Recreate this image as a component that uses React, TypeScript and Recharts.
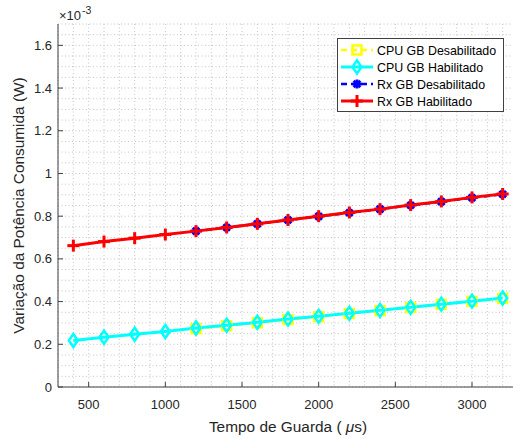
import React from 'react';
import { LineChart, Line, XAxis, YAxis, CartesianGrid, Legend, Label } from 'recharts';

// guard time (µs) and consumed-power variation (×10^-3 W)
const GUARD_US = [400, 600, 800, 1000, 1200, 1400, 1600, 1800, 2000, 2200, 2400, 2600, 2800, 3000, 3200];
const CPU_GB_OFF = [null, null, null, null, 0.273, 0.287, 0.301, 0.316, 0.330, 0.344, 0.358, 0.372, 0.387, 0.401, 0.415];
const CPU_GB_ON = [0.218, 0.233, 0.247, 0.260, 0.276, 0.289, 0.303, 0.318, 0.331, 0.345, 0.359, 0.373, 0.388, 0.402, 0.417];
const RX_GB_OFF = [null, null, null, null, 0.730, 0.747, 0.764, 0.782, 0.799, 0.816, 0.833, 0.851, 0.868, 0.886, 0.903];
const RX_GB_ON = [0.662, 0.681, 0.697, 0.714, 0.730, 0.747, 0.764, 0.782, 0.800, 0.817, 0.833, 0.852, 0.869, 0.888, 0.904];

const X_TICKS = [500, 1000, 1500, 2000, 2500, 3000];
const Y_TICKS = [0, 0.2, 0.4, 0.6, 0.8, 1, 1.2, 1.4, 1.6];
const X_DOMAIN = [300, 3300];
const Y_DOMAIN = [0, 1.7];
// minor grid: every 100 µs and every 0.05
const X_GRID = Array.from({ length: 31 }, (_, i) => 300 + i * 100);
const Y_GRID = Array.from({ length: 35 }, (_, i) => +(i * 0.05).toFixed(2));

const SERIES = [
  { key: 'cpuOff', name: 'CPU GB Desabilitado', color: '#FFFF00', dash: '6 4', marker: 'square', width: 2.5 },
  { key: 'cpuOn', name: 'CPU GB Habilitado', color: '#00FFFF', dash: undefined, marker: 'diamond', width: 3 },
  { key: 'rxOff', name: 'Rx GB Desabilitado', color: '#0000FF', dash: '6 4', marker: 'star', width: 2.5 },
  { key: 'rxOn', name: 'Rx GB Habilitado', color: '#FF0000', dash: undefined, marker: 'plus', width: 3 },
];

const data = GUARD_US.map((x, i) => ({
  x,
  cpuOff: CPU_GB_OFF[i],
  cpuOn: CPU_GB_ON[i],
  rxOff: RX_GB_OFF[i],
  rxOn: RX_GB_ON[i],
}));

const T = {
  ink: '#262626',
  axis: '#404040',
  grid: '#c4c4c4',
  sans: "'Liberation Sans', Arial, Helvetica, sans-serif",
};

const isMajor = (list: number[], v: number) => list.some(t => Math.abs(t - v) < 1e-6);

function Marker({ kind, cx, cy, color }: { kind: string; cx: number; cy: number; color: string }) {
  if (kind === 'square') {
    return <rect x={cx - 4.5} y={cy - 4.5} width={9} height={9} fill="none" stroke={color} strokeWidth={2.5} />;
  }
  if (kind === 'diamond') {
    return (
      <polygon points={`${cx},${cy - 6.5} ${cx + 4.5},${cy} ${cx},${cy + 6.5} ${cx - 4.5},${cy}`}
        fill="none" stroke={color} strokeWidth={2.5} />
    );
  }
  if (kind === 'star') {
    const r = 4.5, d = 3.3;
    return (
      <g stroke={color} strokeWidth={2.8}>
        <line x1={cx - r} x2={cx + r} y1={cy} y2={cy} />
        <line x1={cx} x2={cx} y1={cy - r} y2={cy + r} />
        <line x1={cx - d} x2={cx + d} y1={cy - d} y2={cy + d} />
        <line x1={cx - d} x2={cx + d} y1={cy + d} y2={cy - d} />
      </g>
    );
  }
  const r = 6;
  return (
    <g stroke={color} strokeWidth={3}>
      <line x1={cx - r} x2={cx + r} y1={cy} y2={cy} />
      <line x1={cx} x2={cx} y1={cy - r} y2={cy + r} />
    </g>
  );
}

const XTick = ({ x, y, payload }: any) => {
  if (!isMajor(X_TICKS, payload.value)) return <g />;
  return (
    <g>
      <line x1={x} x2={x} y1={y} y2={y - 5} stroke={T.axis} />
      <text x={x} y={y + 22} textAnchor="middle" fontFamily={T.sans} fontSize={13} fill={T.ink}>
        {payload.value}
      </text>
    </g>
  );
};

const YTick = ({ x, y, payload }: any) => {
  if (!isMajor(Y_TICKS, payload.value)) return <g />;
  return (
    <g>
      <line x1={x} x2={x + 5} y1={y} y2={y} stroke={T.axis} />
      <text x={x - 6} y={y + 4.5} textAnchor="end" fontFamily={T.sans} fontSize={13} fill={T.ink}>
        {+payload.value.toFixed(2)}
      </text>
    </g>
  );
};

function LegendBox() {
  return (
    <div style={{ border: `1px solid ${T.axis}`, background: '#fff', width: 167, height: 74,
      boxSizing: 'border-box' }}>
      <svg width={165} height={72} style={{ display: 'block' }}>
        {SERIES.map((s, i) => {
          const cy = 11 + i * 17;
          return (
            <g key={s.key}>
              <line x1={3} x2={35} y1={cy} y2={cy} stroke={s.color} strokeWidth={s.width}
                strokeDasharray={s.dash} />
              <Marker kind={s.marker} cx={19} cy={cy} color={s.color} />
              <text x={39} y={cy + 4.5} fontFamily={T.sans} fontSize={12.4} fill="#000">{s.name}</text>
            </g>
          );
        })}
      </svg>
    </div>
  );
}

export default function App() {
  return (
    <div style={{ position: 'fixed', left: 0, top: 0, width: 513, height: 439, overflow: 'hidden',
      background: '#fff' }}>
      <LineChart width={525} height={439} data={data}
        margin={{ top: 24, right: 7, bottom: 0, left: 0 }}>
        <CartesianGrid stroke={T.grid} strokeDasharray="1 2.5" />
        <XAxis dataKey="x" type="number" domain={X_DOMAIN} ticks={X_GRID} interval={0}
          height={52} tick={<XTick />} tickLine={false} tickSize={0} tickMargin={0}
          stroke={T.axis} allowDataOverflow>
          <Label content={({ viewBox }: any) => (
            <text x={viewBox.x + viewBox.width / 2} y={viewBox.y + 45} textAnchor="middle"
              fontFamily={T.sans} style={{ fontSize: 15.4 }} fill={T.ink}>
              Tempo de Guarda ( <tspan fontStyle="italic">μ</tspan>s)
            </text>
          )} />
        </XAxis>
        <XAxis xAxisId="top" orientation="top" type="number" domain={X_DOMAIN} ticks={X_TICKS}
          interval={0} height={0} mirror tick={false} tickSize={5} stroke={T.axis} />
        <YAxis type="number" domain={Y_DOMAIN} ticks={Y_GRID} interval={0} width={58}
          tick={<YTick />} tickLine={false} tickSize={0} tickMargin={0} stroke={T.axis}
          allowDataOverflow>
          <Label content={({ viewBox }: any) => {
            const cx = 18;
            const cy = viewBox.y + viewBox.height / 2;
            return (
              <text x={cx} y={cy} transform={`rotate(-90 ${cx} ${cy})`} textAnchor="middle"
                dominantBaseline="central" fontFamily={T.sans} style={{ fontSize: 15.4 }} fill={T.ink}>
                Variação da Potência Consumida (W)
              </text>
            );
          }} />
        </YAxis>
        <YAxis yAxisId="right" orientation="right" type="number" domain={Y_DOMAIN} ticks={Y_TICKS}
          interval={0} width={0} mirror tick={false} tickSize={5} stroke={T.axis} />
        {SERIES.map(s => (
          <Line key={s.key} dataKey={s.key} name={s.name} stroke={s.color} strokeWidth={s.width}
            strokeDasharray={s.dash} isAnimationActive={false} connectNulls={false}
            dot={(p: any) => (p.value == null || p.cy == null)
              ? <g key={`${s.key}-${p.index}`} />
              : <Marker key={`${s.key}-${p.index}`} kind={s.marker} cx={p.cx} cy={p.cy} color={s.color} />}
            activeDot={false} />
        ))}
        <Legend content={<LegendBox />} layout="vertical" align="center" verticalAlign="middle"
          wrapperStyle={{ left: 337, top: 38, width: 167 }} />
      </LineChart>
      {/* exponent note above the y axis */}
      <div style={{ position: 'absolute', left: 59, top: 8, fontFamily: T.sans, fontSize: 13,
        lineHeight: '16px', color: T.ink, whiteSpace: 'nowrap' }}>
        ×10<span style={{ fontSize: 10.5, position: 'relative', top: -6, marginLeft: 1 }}>-3</span>
      </div>
    </div>
  );
}
